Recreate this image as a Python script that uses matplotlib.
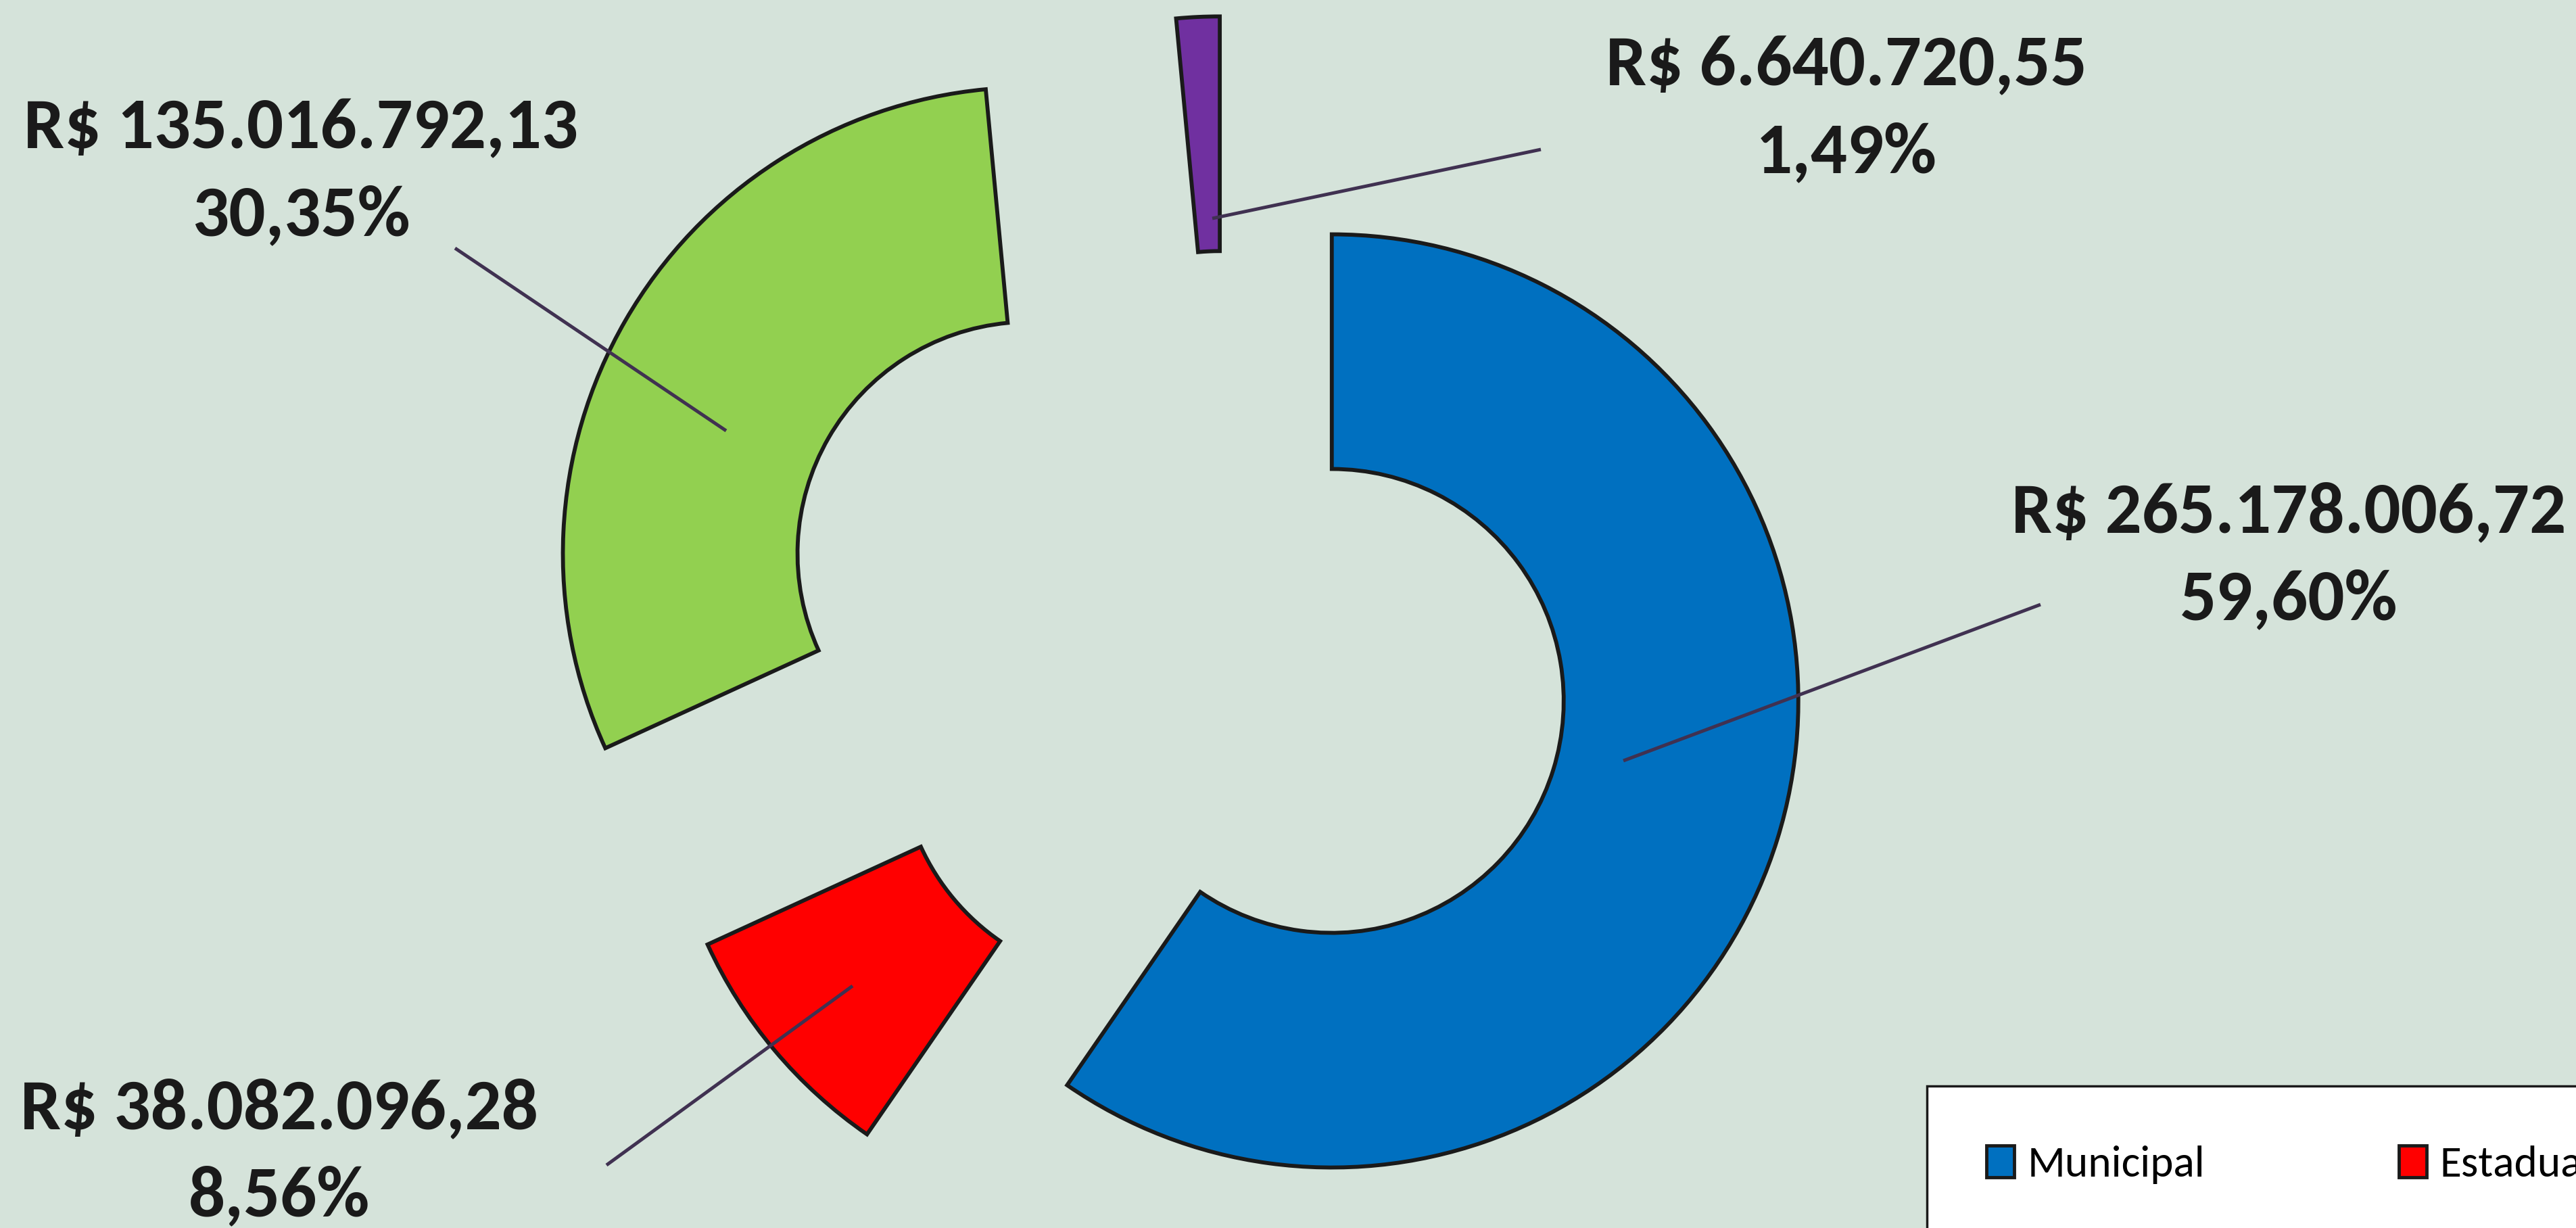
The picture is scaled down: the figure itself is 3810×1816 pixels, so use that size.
import matplotlib
matplotlib.use("Agg")
import matplotlib.pyplot as plt
from matplotlib import font_manager
from matplotlib.patches import Patch

# data
categories = ['Municipal', 'Estadual', 'Federal', 'Outros']
valores = [265178006.72, 38082096.28, 135016792.13, 6640720.55]
rotulos_valor = ['R$ 265.178.006,72', 'R$ 38.082.096,28', 'R$ 135.016.792,13', 'R$ 6.640.720,55']
rotulos_pct = ['59,60%', '8,56%', '30,35%', '1,49%']
cores = ['#0070C0', '#FF0000', '#92D050', '#7030A0']

W, H = 3810, 1816
bg = '#D5E3DA'

available = {f.name for f in font_manager.fontManager.ttflist}
fonte = 'Carlito' if 'Carlito' in available else 'Lato'
plt.rcParams['font.family'] = [fonte, 'DejaVu Sans']

fig = plt.figure(figsize=(W / 100, H / 100), dpi=100, facecolor=bg)
ax = fig.add_axes([0, 0, 1, 1])
ax.set_facecolor(bg)

def Y(y):
    # image rows (top-down) -> data y
    return H - y

centro = (1817, Y(989))
explode = [160, 187, 340, 275]

ax.pie(valores, colors=cores, radius=690, center=centro, startangle=90,
       counterclock=False, explode=explode,
       wedgeprops=dict(width=347, edgecolor='#1a1a1a', linewidth=4.2))

ax.set_xlim(0, W)
ax.set_ylim(0, H)
ax.set_aspect('auto')
ax.axis('off')

# label positions (centre of the two text lines) and leader lines
pos_texto = [(3385, 758), (413, 1640), (445, 190), (2731, 97)]
linhas = [((3018, 894), (2401, 1125)),
          ((897, 1723), (1261, 1458)),
          ((673, 367), (1074, 637)),
          ((2279, 221), (1793, 323))]

for (tx, ty), v, p, ((x0, y0), (x1, y1)) in zip(pos_texto, rotulos_valor, rotulos_pct, linhas):
    ax.plot([x0, x1], [Y(y0), Y(y1)], color='#403151', lw=3.6, solid_capstyle='butt')
    ax.text(tx, Y(ty), v, ha='center', va='center', fontsize=77,
            fontweight='bold', color='#1a1a1a')
    ax.text(tx, Y(ty + 129), p, ha='center', va='center', fontsize=77,
            fontweight='bold', color='#1a1a1a')

handles = [Patch(facecolor=c, edgecolor='#1a1a1a', linewidth=3.5) for c in cores]
leg = fig.legend(handles, categories, loc='upper left',
                 bbox_to_anchor=(2850 / W, 1 - 1606 / H), ncol=4,
                 fontsize=47, frameon=True, fancybox=False, borderaxespad=0,
                 borderpad=1.35, handlelength=0.62, handleheight=0.72,
                 handletextpad=0.3, columnspacing=4.4)
leg.get_frame().set_edgecolor('#1a1a1a')
leg.get_frame().set_linewidth(2.5)
leg.get_frame().set_facecolor('white')
leg.get_frame().set_alpha(1)

fig.savefig('out.png', dpi=100, facecolor=bg)
